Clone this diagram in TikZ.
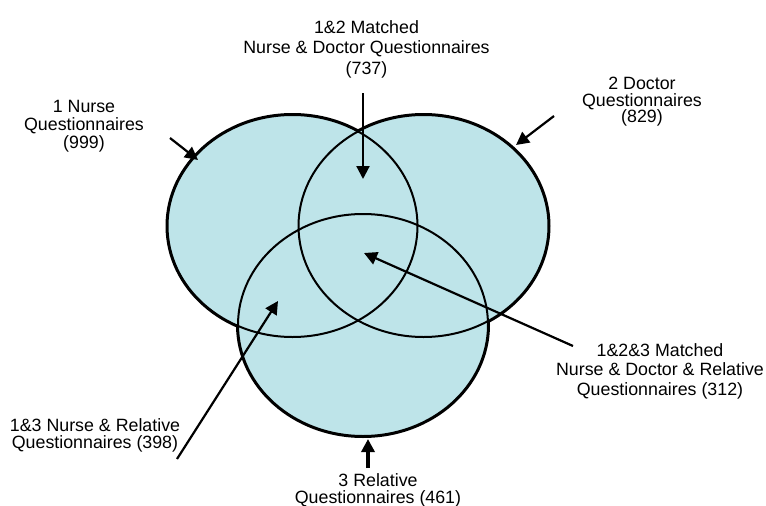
\documentclass[tikz,border=0pt]{standalone}
\usepackage{fontspec}
\setmainfont{Liberation Sans}
\usetikzlibrary{arrows.meta,shapes.geometric}
\definecolor{setblue}{RGB}{190,228,233}

\begin{document}
\begin{tikzpicture}[x=1pt, y=-1pt, >={Triangle[length=13pt,width=13pt]},
  vennset/.style={ellipse, minimum width=250pt, minimum height=222pt, inner sep=0pt, fill=setblue, draw, line width=4pt},
  lab/.style={align=center, inner sep=0pt, anchor=north, font=\fontsize{17.8}{#1}\selectfont},
  arr/.style={->, line width=2.2pt}]
\useasboundingbox (0,0) rectangle (766,506);
\node[vennset] (nurse) at (292.5,226) {};
\node[vennset] (doctor) at (423.5,226) {};
\node[vennset] (relative) at (363,325) {};
\foreach \s in {nurse,doctor,relative}\fill[setblue] (\s.center) ellipse [x radius=125pt, y radius=111pt];
\foreach \s in {nurse,doctor,relative}\draw[line width=2pt] (\s.center) ellipse [x radius=125pt, y radius=111pt];

\node[lab=18] (nurselab) at (84,100) {1 Nurse\\Questionnaires\\(999)};
\node[lab=20.5] (ndlab) at (366.5,20) {1\&2 Matched\\Nurse \& Doctor Questionnaires\\(737)};
\node[lab=16.5] (doctorlab) at (642,77) {2 Doctor\\Questionnaires\\(829)};
\node[lab=19.5] (ndrlab) at (660,343.3) {1\&2\&3 Matched\\Nurse \& Doctor \& Relative\\Questionnaires (312)};
\node[lab=17.5] (nrlab) at (95,418.3) {1\&3 Nurse \& Relative\\Questionnaires (398)};
\node[lab=16.5] (relativelab) at (378,473.5) {3 Relative\\Questionnaires (461)};

\coordinate (nursefrom) at (170,138); \coordinate (nurseto) at (198,160);
\coordinate (ndfrom) at (363,93); \coordinate (ndto) at (363,179);
\coordinate (doctorfrom) at (554,116); \coordinate (doctorto) at (516,145);
\coordinate (ndrfrom) at (573,346); \coordinate (ndrto) at (364,253);
\coordinate (nrfrom) at (177,459); \coordinate (nrto) at (278,301);
\coordinate (relativefrom) at (368,468); \coordinate (relativeto) at (368,439);
\draw[arr] (nursefrom) -- (nurseto);
\draw[arr] (ndfrom) -- (ndto);
\draw[arr] (doctorfrom) -- (doctorto);
\draw[arr] (ndrfrom) -- (ndrto);
\draw[arr] (nrfrom) -- (nrto);
\draw[arr, line width=4pt] (relativefrom) -- (relativeto);
\end{tikzpicture}
\end{document}
